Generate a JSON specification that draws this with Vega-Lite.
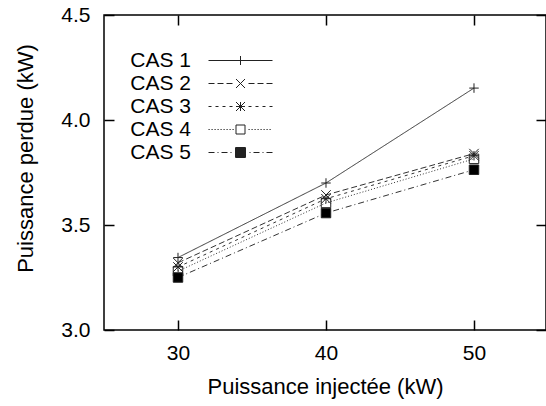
{
  "$schema": "https://vega.github.io/schema/vega-lite/v6.json",
  "width": 442,
  "height": 315,
  "autosize": "none",
  "padding": {"left": 104, "top": 15, "right": 0, "bottom": 76},
  "background": "#ffffff",
  "config": {
    "font": "Liberation Sans",
    "view": {"stroke": "#000", "strokeWidth": 1.5},
    "axis": {"grid": false, "domain": false, "tickColor": "#000", "tickWidth": 1.5, "labelColor": "#000", "titleColor": "#000", "labelFontSize": 21, "titleFontSize": 22, "titleFontWeight": "normal", "labelFlush": false, "labelOverlap": false}
  },
  "data": {
    "values": [
      {"x": 30, "y": 3.345, "cas": "CAS 1"},
      {"x": 40, "y": 3.70, "cas": "CAS 1"},
      {"x": 50, "y": 4.152, "cas": "CAS 1"},
      {"x": 30, "y": 3.32, "cas": "CAS 2"},
      {"x": 40, "y": 3.643, "cas": "CAS 2"},
      {"x": 50, "y": 3.84, "cas": "CAS 2"},
      {"x": 30, "y": 3.30, "cas": "CAS 3"},
      {"x": 40, "y": 3.625, "cas": "CAS 3"},
      {"x": 50, "y": 3.83, "cas": "CAS 3"},
      {"x": 30, "y": 3.28, "cas": "CAS 4"},
      {"x": 40, "y": 3.605, "cas": "CAS 4"},
      {"x": 50, "y": 3.815, "cas": "CAS 4"},
      {"x": 30, "y": 3.25, "cas": "CAS 5"},
      {"x": 40, "y": 3.557, "cas": "CAS 5"},
      {"x": 50, "y": 3.763, "cas": "CAS 5"}
    ]
  },
  "layer": [
    {
      "mark": {"type": "line", "strokeWidth": 1, "color": "#333"},
      "encoding": {
        "x": {"field": "x", "type": "quantitative", "scale": {"domain": [25, 54.865], "nice": false, "zero": false},
          "axis": {"orient": "bottom", "values": [30, 40, 50], "tickSize": -10, "labelPadding": 22, "title": "Puissance injectée (kW)", "titleY": 46, "titleBaseline": "top"}},
        "y": {"field": "y", "type": "quantitative", "scale": {"domain": [3, 4.5], "nice": false, "zero": false},
          "axis": {"orient": "left", "values": [3, 3.5, 4, 4.5], "format": ".1f", "tickSize": -10, "labelPadding": 24, "title": "Puissance perdue (kW)", "titleX": -79, "titleY": 143, "titleBaseline": "middle", "titleAngle": -90}},
        "strokeDash": {"field": "cas", "type": "nominal",
          "scale": {"domain": ["CAS 1", "CAS 2", "CAS 3", "CAS 4", "CAS 5"], "range": [[1, 0], [6, 3], [3, 4], [1, 2], [6, 3, 1, 3]]},
          "legend": null}
      }
    },
    {
      "mark": {"type": "point", "filled": true, "stroke": "#222", "strokeWidth": 1, "size": 90, "opacity": 1},
      "encoding": {
        "x": {"field": "x", "type": "quantitative",
          "axis": {"orient": "top", "values": [30, 40, 50], "tickSize": -10, "labels": false, "title": null}},
        "y": {"field": "y", "type": "quantitative",
          "axis": {"orient": "right", "values": [3, 3.5, 4, 4.5], "tickSize": -10, "labels": false, "title": null}},
        "shape": {"field": "cas", "type": "nominal",
          "scale": {"domain": ["CAS 1", "CAS 2", "CAS 3", "CAS 4", "CAS 5"],
            "range": ["M-1,0H1M0,-1V1", "M-1,-1L1,1M-1,1L1,-1", "M-1,0H1M0,-1V1M-1,-1L1,1M-1,1L1,-1", "square", "square"]},
          "legend": null},
        "fill": {"field": "cas", "type": "nominal",
          "scale": {"domain": ["CAS 1", "CAS 2", "CAS 3", "CAS 4", "CAS 5"], "range": ["transparent", "transparent", "transparent", "transparent", "#000"]},
          "legend": null}
      }
    },
    {
      "transform": [{"filter": "false"}],
      "mark": {"type": "point", "filled": false, "color": "#222", "opacity": 1},
      "encoding": {
        "x": {"field": "x", "type": "quantitative", "axis": null},
        "y": {"field": "y", "type": "quantitative", "axis": null},
        "shape": {"field": "cas", "type": "nominal",
          "scale": {"domain": ["CAS 1", "CAS 2", "CAS 3", "CAS 4", "CAS 5"],
            "range": [
              "M-3.2,0H3.2M0,-0.45V0.45",
              "M-3.2,0H-2.6M-2.3,0H-1.7M-1.4,0H-0.8M0.8,0H1.4M1.7,0H2.3M2.6,0H3.2M-0.45,-0.45L0.45,0.45M-0.45,0.45L0.45,-0.45",
              "M-3.2,0H-2.9M-2.5,0H-2.2M-1.8,0H-1.5M-1.1,0H-0.8M0.8,0H1.1M1.5,0H1.8M2.2,0H2.5M2.9,0H3.2M-0.45,0H0.45M0,-0.45V0.45M-0.45,-0.45L0.45,0.45M-0.45,0.45L0.45,-0.45",
              "M-3.2,0h0.12M-2.9,0h0.12M-2.6,0h0.12M-2.3,0h0.12M-2,0h0.12M-1.7,0h0.12M-1.4,0h0.12M-1.1,0h0.12M-0.8,0h0.12M0.8,0h0.12M1.1,0h0.12M1.4,0h0.12M1.7,0h0.12M2,0h0.12M2.3,0h0.12M2.6,0h0.12M2.9,0h0.12M-0.45,-0.45H0.45V0.45H-0.45Z",
              "M-3.2,0H-2.6M-2.3,0H-2.2M-1.9,0H-1.3M-1,0H-0.9M0.9,0H1M1.3,0H1.9M2.2,0H2.3M2.6,0H3.2M-0.5,-0.5H0.5V0.5H-0.5ZM-0.5,-0.4H0.5M-0.5,-0.3H0.5M-0.5,-0.2H0.5M-0.5,-0.1H0.5M-0.5,0H0.5M-0.5,0.1H0.5M-0.5,0.2H0.5M-0.5,0.3H0.5M-0.5,0.4H0.5"
            ]},
          "legend": {
            "orient": "none", "legendX": 22, "legendY": 35, "title": null,
            "symbolSize": 400, "symbolStrokeWidth": 1, "symbolStrokeColor": "#222",
            "labelFontSize": 21, "labelColor": "#000", "labelAlign": "right", "labelBaseline": "middle",
            "labelOffset": -60, "symbolOffset": 104, "rowPadding": 1, "labelLimit": 300,
            "encode": {"symbols": {"update": {
              "stroke": {"value": "#222"},
              "opacity": {"value": 1}
            }}}
          }
        }
      }
    }
  ],
  "resolve": {"scale": {"shape": "independent"}, "axis": {"x": "independent", "y": "independent"}}
}
